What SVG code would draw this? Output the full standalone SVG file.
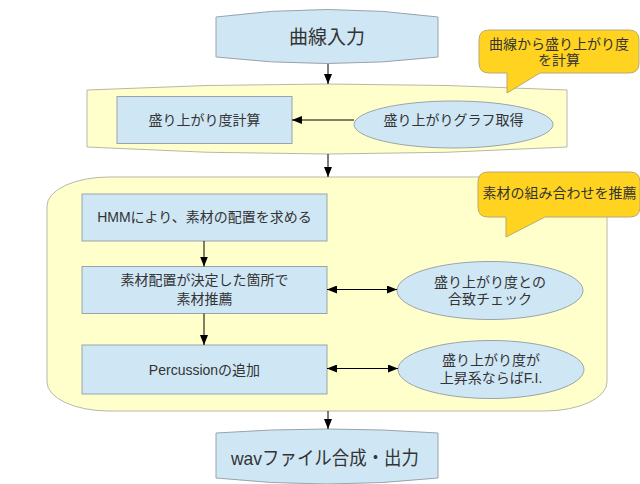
<svg xmlns="http://www.w3.org/2000/svg" width="640" height="484" viewBox="0 0 640 484">
<defs>
<marker id="ah" viewBox="0 0 10 8" markerWidth="10" markerHeight="8" refX="10" refY="4" markerUnits="userSpaceOnUse" orient="auto-start-reverse">
<path d="M0,0 L10,4 L0,8 Z" fill="#000"/>
</marker>
<style>
text{font-family:"Liberation Sans","Noto Sans CJK JP",sans-serif;fill:#333;dominant-baseline:central;text-anchor:middle}
.t14{font-size:14px}
.t19{font-size:19px}
.blue{fill:#cfe7f5;stroke:#9aa3ab;stroke-width:1}
.band{fill:#ffffcc;stroke:#b8b8a8;stroke-width:1}
.call{fill:#ffd320;stroke:#b8a878;stroke-width:1}
.con{fill:none;stroke:#000;stroke-width:1}
</style>
</defs>
<rect width="640" height="484" fill="#fff"/>

<g id="band1">
<path class="band" d="M87,90 Q327,78 567,90 L567,147 Q327,161 87,147 Z"/>
</g>
<g id="band2">
<rect class="band" x="47" y="177" width="560" height="234" rx="62" ry="29"/>
</g>

<g id="start">
<path class="blue" d="M216,17 Q327,2 438,17 L438,57 Q327,70 216,57 Z"/>
<text class="t19" x="327" y="37">曲線入力</text>
</g>

<g id="calc">
<rect class="blue" x="117" y="96.5" width="175" height="47"/>
<text class="t14" x="204.5" y="120">盛り上がり度計算</text>
</g>

<g id="graph">
<ellipse class="blue" cx="453.5" cy="124.5" rx="99.5" ry="23.5"/>
<text class="t14" x="453.5" y="120">盛り上がりグラフ取得</text>
</g>

<g id="callout1">
<path class="call" d="M489,30 H629 Q639,30 639,40 V63 Q639,73 629,73 H540 L507,93 V73 H489 Q479,73 479,63 V40 Q479,30 489,30 Z"/>
<text class="t14" x="559" y="43.5">曲線から盛り上がり度</text>
<text class="t14" x="559" y="59.5">を計算</text>
</g>

<g id="hmm">
<rect class="blue" x="82" y="194" width="245" height="47"/>
<text class="t14" x="204.5" y="217">HMMにより、素材の配置を求める</text>
</g>

<g id="recommend">
<rect class="blue" x="82" y="266.5" width="245" height="47"/>
<text class="t14" x="204.5" y="280">素材配置が決定した箇所で</text>
<text class="t14" x="204.5" y="299">素材推薦</text>
</g>

<g id="percussion">
<rect class="blue" x="82" y="345" width="245" height="49"/>
<text class="t14" x="204.5" y="370">Percussionの追加</text>
</g>

<g id="check">
<ellipse class="blue" cx="490" cy="290.5" rx="93" ry="29"/>
<text class="t14" x="490" y="282">盛り上がり度との</text>
<text class="t14" x="490" y="298.5">合致チェック</text>
</g>

<g id="fi">
<ellipse class="blue" cx="491" cy="369.5" rx="93" ry="29"/>
<text class="t14" x="491" y="360">盛り上がり度が</text>
<text class="t14" x="491" y="377.5">上昇系ならばF.I.</text>
</g>

<g id="callout2">
<path class="call" d="M488,172 H630 Q640,172 640,182 V207 Q640,217 630,217 H545 L506,237 V217 H488 Q478,217 478,207 V182 Q478,172 488,172 Z"/>
<text class="t14" x="559.5" y="193">素材の組み合わせを推薦</text>
</g>

<g id="output">
<path class="blue" d="M216,433 Q327,425 438,433 L438,478 Q327,490 216,478 Z"/>
<text class="t19" x="325" y="458" textLength="188" lengthAdjust="spacingAndGlyphs">wavファイル合成・出力</text>
</g>

<g id="connectors">
<path class="con" d="M328,64 V84" marker-end="url(#ah)"/>
<path class="con" d="M354,120 H292" marker-end="url(#ah)"/>
<path class="con" d="M328,154 V177" marker-end="url(#ah)"/>
<path class="con" d="M204,241 V266.5" marker-end="url(#ah)"/>
<path class="con" d="M204,313.5 V345" marker-end="url(#ah)"/>
<path class="con" d="M327,289.5 H397" marker-start="url(#ah)" marker-end="url(#ah)"/>
<path class="con" d="M327,368.5 H398" marker-start="url(#ah)" marker-end="url(#ah)"/>
<path class="con" d="M328,411 V429" marker-end="url(#ah)"/>
</g>
</svg>
